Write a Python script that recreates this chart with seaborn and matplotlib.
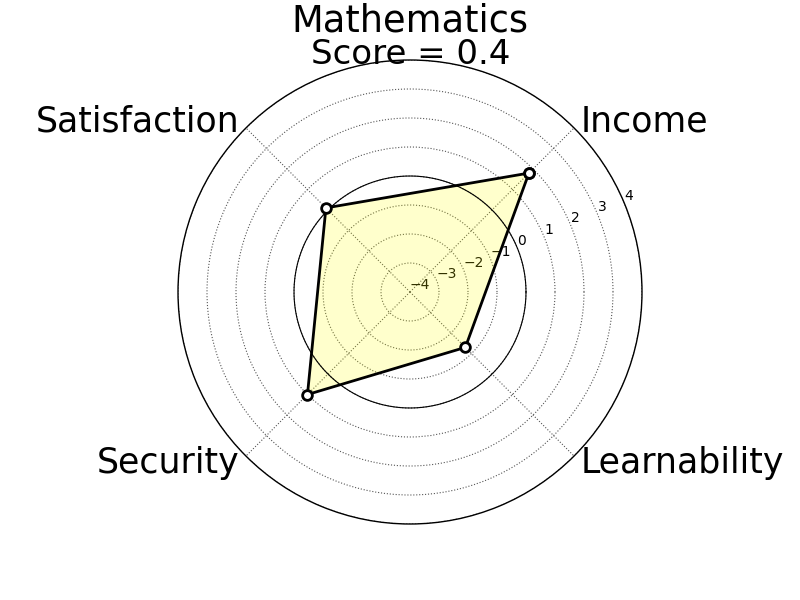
import numpy as np
import matplotlib
matplotlib.use("Agg")
import matplotlib.pyplot as plt
import seaborn as sns

sns.set_style("white")
plt.rcParams['font.family'] = ['DejaVu Sans']
plt.rcParams['text.color'] = 'black'
plt.rcParams['xtick.color'] = 'black'
plt.rcParams['ytick.color'] = 'black'

categories = ["Income", "Satisfaction", "Security", "Learnability"]
values = [1.8, 0.1, 1.0, -1.3]
subject = "Mathematics"
score = np.mean(values)
rticks = [-4, -3, -2, -1, 0, 1, 2, 3, 4]

angles = np.deg2rad([45, 135, 225, 315])
fig = plt.figure(figsize=(8, 6), dpi=100)
ax = fig.add_axes([178/800, 76/600, 464/800, 464/600], projection="polar")

ang_c = np.append(angles, angles[0])
val_c = np.append(values, values[0])
ax.fill(ang_c, val_c, color="yellow", alpha=0.2, zorder=1)
ax.plot(ang_c, val_c, color="black", lw=2, marker="o", markersize=7,
        markerfacecolor="white", markeredgecolor="black", markeredgewidth=2, zorder=3)

# zero circle
th = np.linspace(0, 2*np.pi, 400)
ax.plot(th, np.zeros_like(th), color="black", lw=0.8, zorder=2)

ax.set_ylim(-4, 4)
ax.set_yticks(rticks)
ax.set_yticklabels([str(t).replace("-", "\u2212") for t in rticks], fontsize=10)
ax.set_rlabel_position(22.5)
ax.tick_params(axis="y", length=0)
ax.set_xticks(angles)
ax.set_xticklabels([])
ax.tick_params(axis="x", length=0)
for a, lab in zip(angles, categories):
    ha = "left" if np.cos(a) > 0 else "right"
    ax.text(a, 4.32, lab, fontsize=25, ha=ha, va="center", color="black")
ax.grid(True, color="#555555", linestyle=":", linewidth=0.8)
ax.spines["polar"].set_color("black")
ax.spines["polar"].set_linewidth(1)
ax.spines["polar"].set_capstyle("butt")

fig.text(410/800, 1 - 32/600, subject, fontsize=26.5, ha="center", va="baseline")
fig.text(411/800, 1 - 63.5/600, f"Score = {score:.1f}", fontsize=24.5, ha="center", va="baseline")

fig.savefig("out.png", dpi=100)
